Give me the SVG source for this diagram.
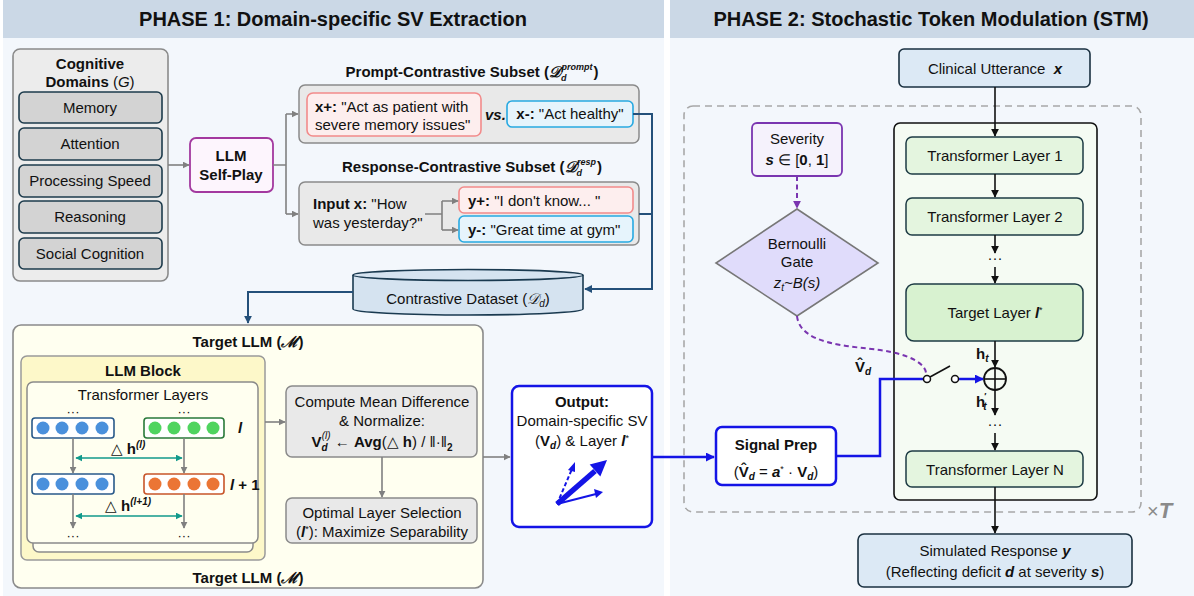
<svg xmlns="http://www.w3.org/2000/svg" width="1194" height="596" viewBox="0 0 1194 596">
<style>
text{font-family:"Liberation Sans",Arial,sans-serif;fill:#111;}
.t14{font-size:15px;}
.t13{font-size:13px;}
.b{font-weight:bold;}
.i{font-style:italic;}
.c{text-anchor:middle;}
.hdr{font-size:20px;font-weight:bold;text-anchor:middle;}
.dom{fill:#d3d3d3;stroke:#1d3b4c;stroke-width:1.6;}
.gbox{fill:#e9e9e9;stroke:#8a8a8a;stroke-width:1.5;}
.pos{fill:#fdeeee;stroke:#f28b8b;stroke-width:1.6;}
.neg{fill:#e6f4fc;stroke:#27a9e1;stroke-width:1.6;}
.tl{fill:#e4f5df;stroke:#1d3b44;stroke-width:1.5;}
.ga{stroke:#808080;stroke-width:1.6;fill:none;}
.da{stroke:#24507a;stroke-width:2;fill:none;}
.ka{stroke:#111;stroke-width:1.6;fill:none;}
.ba{stroke:#1414e6;stroke-width:2.5;fill:none;}
.ta{stroke:#129a8c;stroke-width:1.6;fill:none;}
.row{fill:#fff;stroke-width:1.6;}
</style>
<defs>
<marker id="mg" viewBox="0 0 10 10" refX="9" refY="5" markerWidth="7" markerHeight="7" markerUnits="userSpaceOnUse" orient="auto"><path d="M0,0L10,5L0,10z" fill="#808080"/></marker>
<marker id="md" viewBox="0 0 10 10" refX="9" refY="5" markerWidth="8" markerHeight="8" markerUnits="userSpaceOnUse" orient="auto"><path d="M0,0L10,5L0,10z" fill="#24507a"/></marker>
<marker id="mk" viewBox="0 0 10 10" refX="9" refY="5" markerWidth="8" markerHeight="8" markerUnits="userSpaceOnUse" orient="auto"><path d="M0,0L10,5L0,10z" fill="#111"/></marker>
<marker id="mb" viewBox="0 0 10 10" refX="9" refY="5" markerWidth="9" markerHeight="9" markerUnits="userSpaceOnUse" orient="auto"><path d="M0,0L10,5L0,10z" fill="#1414e6"/></marker>
<marker id="mp" viewBox="0 0 10 10" refX="9" refY="5" markerWidth="8" markerHeight="8" markerUnits="userSpaceOnUse" orient="auto"><path d="M0,0L10,5L0,10z" fill="#7a35b0"/></marker>
<marker id="mt" viewBox="0 0 10 10" refX="9" refY="5" markerWidth="7" markerHeight="7" markerUnits="userSpaceOnUse" orient="auto-start-reverse"><path d="M0,0L10,5L0,10z" fill="#129a8c"/></marker>
</defs>

<!-- panels -->
<g id="panel1">
<rect x="3" y="0" width="661" height="596" fill="#f3f7fc"/>
<rect x="3" y="0" width="661" height="38" fill="#cbd8e6"/>
<text class="hdr" x="333" y="26">PHASE 1: Domain-specific SV Extraction</text>
</g>
<g id="panel2">
<rect x="670" y="0" width="524" height="596" fill="#f3f7fc"/>
<rect x="670" y="0" width="524" height="38" fill="#cbd8e6"/>
<text class="hdr" x="931" y="26">PHASE 2: Stochastic Token Modulation (STM)</text>
</g>

<!-- Cognitive domains -->
<g id="cognitive-domains">
<rect x="13" y="49" width="155" height="232" rx="7" fill="#ececec" stroke="#8a8a8a" stroke-width="1.6"/>
<text class="t14 b c" x="90" y="69">Cognitive</text>
<text class="t14 c" x="90" y="87"><tspan class="b">Domains</tspan> (<tspan class="i">G</tspan>)</text>
<rect class="dom" x="19" y="92" width="143" height="31" rx="5"/>
<text class="t14 c" x="90" y="113">Memory</text>
<rect class="dom" x="19" y="128" width="143" height="32" rx="5"/>
<text class="t14 c" x="90" y="149">Attention</text>
<rect class="dom" x="19" y="165" width="143" height="32" rx="5"/>
<text class="t14 c" x="90" y="186">Processing Speed</text>
<rect class="dom" x="19" y="201" width="143" height="32" rx="5"/>
<text class="t14 c" x="90" y="222">Reasoning</text>
<rect class="dom" x="19" y="238" width="143" height="31" rx="5"/>
<text class="t14 c" x="90" y="259">Social Cognition</text>
</g>

<g id="llm-self-play">
<rect x="190" y="138" width="83" height="54" rx="6" fill="#fdf5fd" stroke="#a3399f" stroke-width="1.8"/>
<text class="b c" x="231" y="161" font-size="15">LLM</text>
<text class="b c" x="231" y="180" font-size="15">Self-Play</text>
</g>

<g id="prompt-subset">
<text class="t14 b c" x="472" y="77">Prompt-Contrastive Subset (<tspan font-family="DejaVu Serif,serif" font-style="italic">𝒟</tspan><tspan font-size="9" dy="4" font-style="italic">d</tspan><tspan font-size="9" dy="-11" font-style="italic" dx="-5">prompt</tspan><tspan dy="7" dx="1">)</tspan></text>
<rect class="gbox" x="299" y="85" width="340" height="58" rx="6"/>
<rect class="pos" x="307" y="93" width="174" height="43" rx="6"/>
<text class="t14" x="315" y="112"><tspan class="b">x+:</tspan> "Act as patient with</text>
<text class="t14" x="315" y="130">severe memory issues"</text>
<text class="t14 b i" x="485" y="120">vs.</text>
<rect class="neg" x="507" y="101" width="126" height="26" rx="5"/>
<text class="t14 c" x="570" y="119"><tspan class="b">x-:</tspan> "Act healthy"</text>
</g>

<g id="response-subset">
<text class="t14 b c" x="472" y="172">Response-Contrastive Subset (<tspan font-family="DejaVu Serif,serif" font-style="italic">𝒟</tspan><tspan font-size="9" dy="4" font-style="italic">d</tspan><tspan font-size="9" dy="-11" font-style="italic" dx="-5">resp</tspan><tspan dy="7" dx="1">)</tspan></text>
<rect class="gbox" x="299" y="182" width="340" height="63" rx="6"/>
<text class="t14" x="313" y="209"><tspan class="b">Input x:</tspan> "How</text>
<text class="t14" x="313" y="228">was yesterday?"</text>
<rect class="pos" x="459" y="187" width="174" height="26" rx="5"/>
<text class="t14" x="468" y="206"><tspan class="b">y+:</tspan> "I don't know... "</text>
<rect class="neg" x="459" y="216" width="174" height="26" rx="5"/>
<text class="t14" x="468" y="235"><tspan class="b">y-:</tspan> "Great time at gym"</text>
</g>

<g id="contrastive-dataset">
<path d="M353,275 L353,309 A115,6 0 0 0 583,309 L583,275" fill="#d5e3f0" stroke="#1a3a50" stroke-width="1.6"/>
<ellipse cx="468" cy="275" rx="115" ry="5.5" fill="#d5e3f0" stroke="#1a3a50" stroke-width="1.6"/>
<text class="t14 c" x="468" y="304">Contrastive Dataset (<tspan font-family="DejaVu Serif,serif" font-style="italic">𝒟</tspan><tspan font-size="10" dy="3" font-style="italic">d</tspan><tspan dy="-3">)</tspan></text>
</g>

<g id="target-llm">
<rect x="13" y="325" width="470" height="263" rx="8" fill="#fffff0" stroke="#8a8a8a" stroke-width="1.6"/>
<text class="t14 b c" x="248" y="347">Target LLM (<tspan font-family="DejaVu Serif,serif" font-style="italic">ℳ</tspan>)</text>
<text class="t14 b c" x="248" y="583">Target LLM (<tspan font-family="DejaVu Serif,serif" font-style="italic">ℳ</tspan>)</text>
</g>

<g id="llm-block">
<rect x="21" y="356" width="244" height="204" rx="6" fill="#fdf8c9" stroke="#9a9a9a" stroke-width="1.5"/>
<text class="t14 b c" x="143" y="376">LLM Block</text>
<rect x="33" y="390" width="220" height="162" rx="6" fill="#fffff0" stroke="#8a8a8a" stroke-width="1.5"/>
<rect x="27" y="382" width="231" height="161" rx="6" fill="#fffff0" stroke="#8a8a8a" stroke-width="1.5"/>
<text class="t14 c" x="143" y="400">Transformer Layers</text>
<text class="t13 c" x="73" y="416">···</text>
<text class="t13 c" x="184" y="416">···</text>
<rect class="row" x="32" y="418" width="82" height="20" rx="3" stroke="#2a5a8a"/>
<g fill="#4a90dc"><circle cx="43" cy="428" r="6.5"/><circle cx="62" cy="428" r="6.5"/><circle cx="82" cy="428" r="6.5"/><circle cx="102" cy="428" r="6.5"/></g>
<rect class="row" x="144" y="418" width="80" height="20" rx="3" stroke="#2a7a3a"/>
<g fill="#4fd45f"><circle cx="155" cy="428" r="6.5"/><circle cx="174" cy="428" r="6.5"/><circle cx="194" cy="428" r="6.5"/><circle cx="213" cy="428" r="6.5"/></g>
<text class="t14 b i" x="238" y="433">l</text>
<rect class="row" x="32" y="474" width="82" height="20" rx="3" stroke="#2a5a8a"/>
<g fill="#4a90dc"><circle cx="43" cy="484" r="6.5"/><circle cx="62" cy="484" r="6.5"/><circle cx="82" cy="484" r="6.5"/><circle cx="102" cy="484" r="6.5"/></g>
<rect class="row" x="144" y="474" width="80" height="20" rx="3" stroke="#c8552a"/>
<g fill="#eb7535"><circle cx="155" cy="484" r="6.5"/><circle cx="174" cy="484" r="6.5"/><circle cx="194" cy="484" r="6.5"/><circle cx="213" cy="484" r="6.5"/></g>
<text class="t14 b" x="230" y="490"><tspan class="i">l</tspan> + 1</text>
<text class="t14 c" x="128" y="454">△ <tspan class="b">h</tspan><tspan font-size="10" dy="-6" class="i b">(l)</tspan></text>
<text class="t14 c" x="128" y="511">△ <tspan class="b">h</tspan><tspan font-size="10" dy="-6" class="i b">(l+1)</tspan></text>
<text class="t13 c" x="73" y="540">···</text>
<text class="t13 c" x="184" y="540">···</text>
</g>

<g id="compute-mean">
<rect class="gbox" x="286" y="386" width="191" height="71" rx="6"/>
<text class="t14 c" x="382" y="407">Compute Mean Difference</text>
<text class="t14 c" x="382" y="426">&amp; Normalize:</text>
<text class="t14 c" x="382" y="447"><tspan class="b">V</tspan><tspan font-size="10" class="b i" dy="4">d</tspan><tspan font-size="10" class="i" dy="-12" dx="-6">(l)</tspan><tspan dy="8"> ← </tspan><tspan class="b">Avg</tspan>(△ <tspan class="b">h</tspan>) / ‖·‖<tspan font-size="10" class="b" dy="4">2</tspan></text>
</g>

<g id="optimal-layer">
<rect class="gbox" x="286" y="498" width="191" height="45" rx="6"/>
<text class="t14 c" x="382" y="518">Optimal Layer Selection</text>
<text class="t14 c" x="382" y="537">(<tspan class="b i">l</tspan><tspan font-size="9" dy="-5">*</tspan><tspan dy="5">): Maximize Separability</tspan></text>
</g>

<g id="output">
<rect x="512" y="386" width="140" height="141" rx="7" fill="#fff" stroke="#1414e6" stroke-width="2.5"/>
<text class="t14 b c" x="582" y="407">Output:</text>
<text class="t14 c" x="582" y="426">Domain-specific SV</text>
<text class="t14 c" x="582" y="446">(<tspan class="b">V</tspan><tspan font-size="10" class="b i" dy="3">d</tspan><tspan dy="-3">) &amp; Layer </tspan><tspan class="b i">l</tspan><tspan font-size="9" dy="-5">*</tspan></text>
<line x1="557" y1="504" x2="595" y2="471" stroke="#1414e6" stroke-width="5.5"/>
<path d="M607,460 L600.3,476.6 L589.7,464.6z" fill="#1414e6"/>
<line x1="557" y1="504" x2="572" y2="469" stroke="#1414e6" stroke-width="2" stroke-dasharray="4,2.5"/>
<path d="M575,462 L568,470 L575,472z" fill="#1414e6"/>
<line x1="557" y1="504" x2="596" y2="494" stroke="#1414e6" stroke-width="2.2"/>
<path d="M603,492 L594,489 L596,498z" fill="#1414e6"/>
</g>

<!-- Phase 2 -->
<g id="loop">
<rect x="684" y="106" width="457" height="406" rx="9" fill="none" stroke="#a8a8a8" stroke-width="1.6" stroke-dasharray="7,5"/>
<text x="1147" y="518" font-size="20" style="fill:#8a8a8a">×<tspan class="b i" font-size="22" style="fill:#8a8a8a">T</tspan></text>
</g>

<g id="clinical-utterance">
<rect x="899" y="49" width="191" height="38" rx="5" fill="#dce9f5" stroke="#1a3040" stroke-width="1.6"/>
<text class="t14 c" x="995" y="74" xml:space="preserve">Clinical Utterance  <tspan class="b i">x</tspan></text>
</g>

<g id="transformer-stack">
<rect x="894" y="123" width="203" height="377" rx="6" fill="#f5fbf3" stroke="#111" stroke-width="1.6"/>
</g>
<g id="tl1"><rect class="tl" x="906" y="137" width="177" height="37" rx="6"/><text class="t14 c" x="995" y="161">Transformer Layer 1</text></g>
<g id="tl2"><rect class="tl" x="906" y="198" width="177" height="37" rx="6"/><text class="t14 c" x="995" y="222">Transformer Layer 2</text></g>
<g id="target-layer"><rect x="906" y="284" width="177" height="57" rx="8" fill="#d8f2d0" stroke="#1d3b44" stroke-width="1.5"/><text class="t14 c" x="995" y="318">Target Layer <tspan class="b i">l</tspan><tspan font-size="9" dy="-5">*</tspan></text></g>
<g id="tln"><rect class="tl" x="906" y="451" width="177" height="36" rx="6"/><text class="t14 c" x="995" y="475">Transformer Layer N</text></g>
<text class="t14 c" x="995" y="263">···</text>
<text class="t14 c" x="995" y="429">···</text>

<g id="severity">
<rect x="752" y="123" width="90" height="53" rx="5" fill="#f5f2fc" stroke="#7a35b0" stroke-width="1.8"/>
<text class="t14 c" x="797" y="144">Severity</text>
<text class="t14 c" x="797" y="165"><tspan class="b i">s</tspan> ∈ [<tspan class="b">0</tspan>, <tspan class="b">1</tspan>]</text>
</g>

<g id="bernoulli">
<path d="M797,209 L878,263 L797,316 L716,263z" fill="#e0dcfb" stroke="#777" stroke-width="1.6"/>
<text class="t14 c" x="797" y="249">Bernoulli</text>
<text class="t14 c" x="797" y="267">Gate</text>
<text class="t14 c i" x="797" y="288">z<tspan font-size="10" dy="3">t</tspan><tspan dy="-3">~B(s)</tspan></text>
</g>

<g id="signal-prep">
<rect x="716" y="427" width="120" height="58" rx="6" fill="#fff" stroke="#1414e6" stroke-width="2.5"/>
<text class="b c" x="776" y="450" font-size="15">Signal Prep</text>
<text class="t14 c" x="776" y="477">(<tspan class="b">V̂</tspan><tspan font-size="10" class="b i" dy="3">d</tspan><tspan dy="-3"> = </tspan><tspan class="b i">a</tspan><tspan font-size="9" dy="-5">*</tspan><tspan dy="5"> · </tspan><tspan class="b">V</tspan><tspan font-size="10" class="b i" dy="3">d</tspan><tspan dy="-3">)</tspan></text>
</g>

<g id="simulated-response">
<rect x="858" y="534" width="274" height="53" rx="6" fill="#dce9f5" stroke="#1a3040" stroke-width="1.6"/>
<text class="t14 c" x="995" y="556">Simulated Response <tspan class="b i">y</tspan></text>
<text class="t14 c" x="995" y="577">(Reflecting deficit <tspan class="b i">d</tspan> at severity <tspan class="b i">s</tspan>)</text>
</g>

<g id="switch-add">
<circle cx="995" cy="379" r="11" fill="none" stroke="#111" stroke-width="1.8"/>
<line x1="984" y1="379" x2="1006" y2="379" stroke="#111" stroke-width="1.6"/>
<line x1="995" y1="368" x2="995" y2="390" stroke="#111" stroke-width="1.6"/>
<line x1="930" y1="377" x2="950" y2="366" stroke="#111" stroke-width="1.6"/>
<text class="t14 b" x="976" y="359">h<tspan font-size="10" class="i" dy="3">t</tspan></text>
<text class="t14 b" x="976" y="407">h<tspan font-size="9" dy="-8" dx="-1">′</tspan><tspan font-size="10" class="i" dy="11" dx="-3">t</tspan></text>
<text class="t14 b" x="855" y="372">V̂<tspan font-size="10" class="i" dy="3">d</tspan></text>
</g>

<g id="connectors">
<line class="ga" x1="168" y1="165" x2="189" y2="165" marker-end="url(#mg)"/>
<path class="ga" d="M273,165 H286 M286,114 V214 M286,114 H298" marker-end="url(#mg)"/>
<line class="ga" x1="286" y1="214" x2="298" y2="214" marker-end="url(#mg)"/>
<path class="ga" d="M425,214 H442 M442,201 V230 M442,201 H458" marker-end="url(#mg)"/>
<line class="ga" x1="442" y1="230" x2="458" y2="230" marker-end="url(#mg)"/>
<path class="da" d="M633,114 H652 V289 H585" marker-end="url(#md)"/>
<line class="da" x1="639" y1="214" x2="652" y2="214"/>
<path class="da" d="M353,292 H248 V323" marker-end="url(#md)"/>
<line class="ga" x1="73" y1="438" x2="73" y2="473" marker-end="url(#mg)"/>
<line class="ga" x1="184" y1="438" x2="184" y2="473" marker-end="url(#mg)"/>
<line class="ga" x1="73" y1="494" x2="73" y2="528" marker-end="url(#mg)"/>
<line class="ga" x1="184" y1="494" x2="184" y2="528" marker-end="url(#mg)"/>
<line class="ta" x1="76" y1="458" x2="182" y2="458" marker-start="url(#mt)" marker-end="url(#mt)"/>
<line class="ta" x1="76" y1="516" x2="182" y2="516" marker-start="url(#mt)" marker-end="url(#mt)"/>
<line class="ga" x1="265" y1="422" x2="285" y2="422" marker-end="url(#mg)"/>
<line class="ga" x1="382" y1="457" x2="382" y2="497" marker-end="url(#mg)"/>
<line class="ga" x1="483" y1="457" x2="510" y2="457" marker-end="url(#mg)"/>
<line class="ba" x1="652" y1="457" x2="714" y2="457" marker-end="url(#mb)"/>
<path class="ba" d="M836,456 H880 V379 H924"/>
<circle cx="927" cy="379" r="3.5" fill="#fff" stroke="#111" stroke-width="1.5"/>
<circle cx="955" cy="379" r="3.5" fill="#fff" stroke="#111" stroke-width="1.5"/>
<line class="ba" x1="959" y1="379" x2="983" y2="379" marker-end="url(#mb)"/>
<path d="M797,316 C800,345 850,346 880,350 C912,355 925,364 926,373" fill="none" stroke="#7a35b0" stroke-width="2" stroke-dasharray="5,3.5"/>
<line x1="797" y1="176" x2="797" y2="208" stroke="#7a35b0" stroke-width="2" stroke-dasharray="5,3.5" marker-end="url(#mp)"/>
<line class="ka" x1="995" y1="87" x2="995" y2="136" marker-end="url(#mk)"/>
<line class="ka" x1="995" y1="174" x2="995" y2="197" marker-end="url(#mk)"/>
<line class="ka" x1="995" y1="235" x2="995" y2="253" marker-end="url(#mk)"/>
<line class="ka" x1="995" y1="267" x2="995" y2="283" marker-end="url(#mk)"/>
<line class="ka" x1="995" y1="341" x2="995" y2="367" marker-end="url(#mk)"/>
<line class="ka" x1="995" y1="390" x2="995" y2="415" marker-end="url(#mk)"/>
<line class="ka" x1="995" y1="433" x2="995" y2="450" marker-end="url(#mk)"/>
<line class="ka" x1="995" y1="487" x2="995" y2="533" marker-end="url(#mk)"/>
</g>
</svg>
